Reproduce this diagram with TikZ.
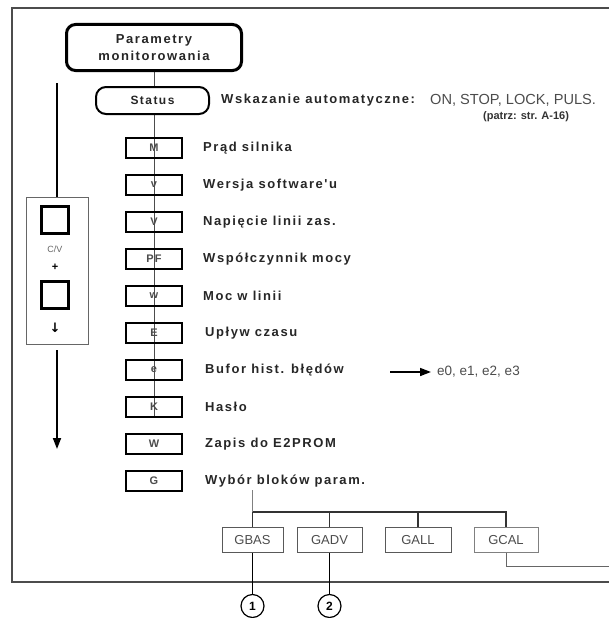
\documentclass[tikz,border=0pt]{standalone}
\usepackage{fontspec}
\setmainfont{Liberation Sans}
\newfontfamily\bfam{Liberation Sans}[LetterSpace=12]
\newfontfamily\djv{DejaVu Sans}
\usetikzlibrary{arrows.meta,backgrounds}
\tikzset{
  pbox/.style={draw, line width=2.6pt, minimum width=56pt, minimum height=20pt, inner sep=0pt,
    font=\bfam\bfseries\fontsize{11}{12}\selectfont, text=black!70},
  lbl/.style={anchor=west, inner sep=0pt, font=\bfam\bfseries\fontsize{13}{14}\selectfont, text=black!85},
  reg/.style={anchor=west, inner sep=0pt, font=\fontsize{13.5}{15}\selectfont, text=black!70},
  gbox/.style={draw=black!65, line width=1pt, minimum height=25pt, inner sep=0pt,
    font=\fontsize{13}{14}\selectfont, text=black!70},
  sq/.style={draw, line width=3pt, minimum width=27pt, minimum height=27pt, inner sep=0pt},
  circ/.style={circle, draw, line width=1.2pt, minimum size=23pt, inner sep=0pt,
    font=\bfseries\fontsize{12}{13}\selectfont},
  conn/.style={line width=1pt, black!70},
  arr/.style={line width=1.8pt, -{Triangle[length=11pt,width=8pt]}}
}
\begin{document}
\begin{tikzpicture}[x=1pt,y=-1pt]
\useasboundingbox (0,0) rectangle (609,618);
% frame
\draw[line width=1.8pt, black!70] (609,8) -- (12,8) -- (12,582) -- (609,582);

% title boxes
\node[draw, line width=3pt, rounded corners=9pt, minimum width=175pt, minimum height=46pt, inner sep=0pt,
  align=center, font=\bfam\bfseries\fontsize{13}{17}\selectfont, text=black!85]
  (par) at (154,47.5) {Parametry\\monitorowania};
\node[draw, line width=2pt, rounded corners=10pt, minimum width=113pt, minimum height=27pt, inner sep=0pt,
  font=\bfam\bfseries\fontsize{12}{13}\selectfont, text=black!85, fill=white]
  (status) at (152.5,100.5) {Status};
\node[lbl] (wsk) at (221,100) {Wskazanie automatyczne:};
\node[reg, font=\fontsize{14.6}{15}\selectfont] (auto) at (430,100) {ON, STOP, LOCK, PULS.};
\node[anchor=west, inner sep=0pt, font=\bfseries\fontsize{11}{12}\selectfont, text=black!80] (patrz) at (483,117) {(patrz: str. A-16)};

% parameter boxes
\node[pbox] (bM) at (154,148) {M};
\node[pbox] (bv) at (154,185) {v};
\node[pbox] (bV) at (154,222) {V};
\node[pbox] (bPF) at (154,259) {PF};
\node[pbox] (bw) at (154,296) {w};
\node[pbox] (bE) at (154,333) {E};
\node[pbox] (be) at (154,370) {e};
\node[pbox] (bK) at (154,407) {K};
\node[pbox] (bW) at (154,444) {W};
\node[pbox] (bG) at (154,481) {G};

\node[lbl] (lM) at (203,148) {Prąd silnika};
\node[lbl] (lv) at (203,185) {Wersja software'u};
\node[lbl] (lV) at (203,222) {Napięcie linii zas.};
\node[lbl] (lPF) at (203,259) {Współczynnik mocy};
\node[lbl] (lw) at (203,296) {Moc w linii};
\node[lbl] (lE) at (205,333) {Upływ czasu};
\node[lbl] (le) at (205,370) {Bufor hist. błędów};
\node[lbl] (lK) at (205,407) {Hasło};
\node[lbl] (lW) at (205,444) {Zapis do E2PROM};
\node[lbl] (lG) at (205,481) {Wybór bloków param.};

\begin{scope}[on background layer]
\draw[conn] (par.south) -- (bK.south);
\end{scope}

% error buffer
\coordinate (ea) at (390,372);
\coordinate (eb) at (431,372);
\node[reg] (elist) at (437,372) {e0, e1, e2, e3};
\draw[arr, line width=1.6pt] (ea) -- (eb);

% left panel
\node[draw=black!60, line width=1pt, minimum width=62pt, minimum height=147pt, inner sep=0pt] (panel) at (57,270.5) {};
\node[sq] (sq1) at (55,219.5) {};
\node[sq] (sq2) at (55,295) {};
\node[font=\fontsize{9}{10}\selectfont, text=black!60, inner sep=0pt] (cv) at (55,249) {C/V};
\node[font=\bfseries\fontsize{11}{11}\selectfont, inner sep=0pt] (plus) at (55,267) {+};
\node[font=\djv\bfseries\fontsize{13}{13}\selectfont, inner sep=0pt] (down) at (55,328) {↓};
\coordinate (atop) at (57,83);
\coordinate (abot) at (57,350);
\coordinate (aend) at (57,449);
\draw[line width=1.8pt] (atop) -- (panel.north -| atop);
\draw[arr] (abot) -- (aend);

% group boxes
\node[gbox, minimum width=61pt] (gbas) at (252.5,540) {GBAS};
\node[gbox, minimum width=65pt] (gadv) at (329.5,540) {GADV};
\node[gbox, minimum width=66pt] (gall) at (418,540) {GALL};
\node[gbox, minimum width=64pt, draw=black!50] (gcal) at (506,540) {GCAL};
\coordinate (gtop) at (252.5,490);
\coordinate (bus) at (252.5,512);
\draw[line width=0.8pt, black!50] (gtop) -- (bus);
\draw[line width=1.2pt, black!80] (bus) -- (gbas.north);
\draw[line width=1.2pt, black!80] (bus) -- (bus -| gcal.north) -- (gcal.north);
\draw[line width=1.2pt, black!80] (bus -| gadv.north) -- (gadv.north);
\draw[line width=1.2pt, black!80] (bus -| gall.north) -- (gall.north);
\coordinate (gend) at (609,566);
\draw[line width=1pt, black!60] (gcal.south) |- (gend);

% circles
\node[circ] (c1) at (252.5,606) {1};
\node[circ] (c2) at (329.5,606) {2};
\draw[line width=1.6pt] (gbas.south) -- (c1.north);
\draw[line width=1.6pt] (gadv.south) -- (c2.north);
\end{tikzpicture}
\end{document}
